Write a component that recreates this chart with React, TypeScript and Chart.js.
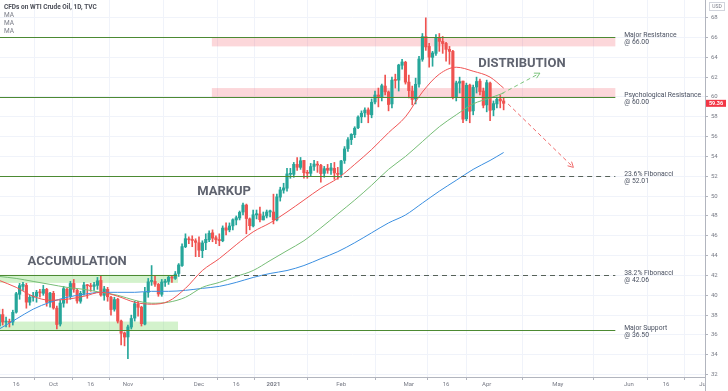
import React, { useEffect, useRef } from "react";
import { Chart, registerables } from "chart.js";

Chart.register(...registerables);

// Bar index 0 = 16 Sep 2020 (trading days). First bar shown = 9 Sep 2020, last = 9 Apr 2021.
const FIRST_BAR = -5;

const opens = [
  36.9, 38.05, 37.3, 37.3, 37.3,
  38.3, 40.1, 40.9, 41.0, 39.3, 39.8, 39.9, 40.3, 40.2, 40.6, 39.3,
  40.2, 38.7, 37.1, 39.2, 40.6, 39.9, 41.2, 40.5, 39.4, 40.2, 41.0, 40.9, 40.9, 41.0, 41.5, 40.0, 40.6, 39.8, 38.6, 39.6, 37.4, 36.2,
  35.8, 36.8, 37.7, 39.1, 38.8, 37.1, 40.3, 41.4, 41.4, 41.1, 40.1, 41.3, 41.4, 41.8, 41.7, 42.2, 43.0, 44.9, 45.7, 45.6, 45.5,
  45.3, 44.5, 45.3, 45.6, 46.3, 45.8, 45.6, 45.5, 46.8, 46.6, 47.0, 47.6, 47.8, 48.4, 49.1, 47.7, 47.0, 48.1, 48.2, 47.6, 48.0, 48.4,
  48.4, 47.6, 49.9, 50.6, 50.8, 52.2, 52.2, 53.2, 52.9, 53.6, 52.4, 52.3, 53.0, 53.2, 53.1, 52.3, 52.8, 52.6, 52.8, 52.3,
  52.2, 53.6, 54.8, 55.7, 56.2, 56.9, 58.0, 58.4, 58.7, 58.2, 59.5, 60.2, 60.0, 61.1, 60.5, 59.3, 61.7, 61.7, 63.2, 63.5,
  61.5, 60.6, 59.8, 61.3, 63.8, 66.1, 65.1, 64.0, 64.4, 66.0, 65.6, 65.4, 64.8, 64.6, 60.0, 61.4, 61.6, 57.8, 61.2, 58.6, 61.0, 61.6, 60.6,
  59.2, 61.4, 58.7, 59.3, 59.8, 59.6,
];
const highs = [
  38.6, 38.6, 37.8, 37.6, 38.5,
  40.3, 41.2, 41.3, 41.2, 40.0, 40.3, 40.5, 40.6, 41.0, 40.7, 40.3,
  40.4, 38.9, 39.5, 40.9, 40.7, 41.4, 41.6, 40.6, 40.4, 41.3, 41.1, 41.2, 41.3, 41.8, 41.9, 40.9, 40.8, 39.9, 39.8, 39.7, 37.5, 36.3,
  37.0, 38.0, 39.4, 39.4, 38.9, 40.8, 41.7, 43.0, 41.9, 41.2, 41.6, 41.6, 42.0, 42.0, 42.4, 43.2, 45.2, 46.2, 45.9, 46.0, 45.7,
  45.9, 45.5, 46.2, 46.5, 46.6, 46.0, 46.2, 47.0, 47.3, 47.3, 47.7, 48.0, 48.5, 49.3, 49.2, 47.8, 48.6, 48.6, 48.9, 48.4, 48.6, 48.6,
  50.2, 50.2, 50.9, 51.3, 52.8, 52.8, 53.4, 53.9, 53.9, 53.6, 52.6, 53.3, 53.6, 53.5, 53.2, 53.0, 53.2, 53.3, 53.4, 52.9,
  53.6, 55.0, 55.9, 56.3, 57.0, 58.1, 58.6, 58.9, 58.9, 59.8, 60.6, 60.9, 61.3, 62.2, 60.6, 62.0, 62.3, 63.3, 63.8, 63.6,
  62.2, 61.1, 61.9, 64.1, 66.4, 67.98, 65.4, 64.6, 66.3, 66.4, 66.1, 65.5, 65.1, 64.7, 61.6, 62.0, 61.6, 61.4, 61.3, 61.2, 62.0, 61.8, 60.9,
  61.7, 61.5, 59.6, 60.0, 60.2, 59.9,
];
const lows = [
  36.7, 37.0, 36.8, 36.8, 37.0,
  38.2, 39.6, 40.5, 38.7, 39.0, 39.4, 39.3, 39.8, 40.0, 38.9, 38.8,
  38.6, 36.6, 36.9, 38.8, 39.2, 39.6, 40.3, 39.2, 39.2, 40.0, 39.7, 40.4, 40.5, 40.6, 39.9, 39.5, 39.4, 38.0, 38.4, 37.2, 35.0, 34.9,
  33.6, 36.6, 37.4, 37.9, 36.9, 37.0, 39.8, 41.0, 40.9, 39.9, 39.9, 40.9, 41.1, 41.3, 41.6, 41.9, 42.9, 44.8, 45.2, 44.9, 43.9,
  43.9, 43.8, 44.6, 45.4, 45.4, 45.2, 45.0, 45.4, 46.1, 46.4, 46.6, 47.1, 47.6, 48.1, 46.2, 46.6, 46.9, 47.7, 47.4, 47.6, 47.8, 47.9,
  47.2, 47.5, 49.5, 50.3, 50.5, 51.8, 51.9, 52.6, 52.7, 51.8, 51.8, 52.0, 52.6, 52.4, 51.4, 51.9, 52.3, 52.2, 51.7, 51.7,
  51.9, 53.3, 54.5, 55.2, 55.9, 56.8, 57.4, 58.0, 57.4, 57.9, 59.3, 59.0, 59.6, 60.2, 58.6, 58.9, 60.9, 60.6, 62.8, 61.3,
  59.9, 59.2, 59.3, 61.0, 63.6, 64.7, 63.0, 63.1, 64.2, 64.6, 64.4, 63.6, 63.3, 59.8, 59.6, 60.4, 57.4, 57.6, 57.4, 58.2, 60.4, 60.2, 58.9,
  58.5, 57.6, 58.1, 58.9, 58.9, 58.7,
];
const closes = [
  38.05, 37.3, 37.33, 37.26, 38.28,
  40.16, 40.97, 41.11, 39.31, 39.8, 39.93, 40.31, 40.25, 40.6, 39.29, 40.22,
  38.72, 37.05, 39.22, 40.67, 39.95, 41.19, 40.6, 39.43, 40.2, 41.04, 40.96, 40.88, 41.06, 41.46, 40.03, 40.64, 39.85, 38.56, 39.57, 37.39, 36.17, 35.79,
  36.81, 37.66, 39.15, 38.79, 37.14, 40.29, 41.36, 41.45, 41.12, 40.13, 41.34, 41.43, 41.82, 41.74, 42.15, 43.06, 44.91, 45.71, 45.6, 45.53, 45.34,
  44.55, 45.28, 45.64, 46.26, 45.76, 45.6, 45.52, 46.78, 46.57, 46.99, 47.62, 47.82, 48.36, 49.1, 47.74, 47.02, 48.12, 48.23, 47.62, 48.0, 48.4, 48.52,
  47.62, 49.93, 50.63, 50.83, 52.24, 52.25, 53.21, 52.91, 53.57, 52.36, 52.3, 52.98, 53.24, 53.13, 52.27, 52.77, 52.61, 52.85, 52.34, 52.2,
  53.55, 54.76, 55.69, 56.23, 56.85, 57.97, 58.36, 58.68, 58.24, 59.47, 60.2, 60.05, 61.14, 60.52, 59.24, 61.7, 61.67, 63.22, 63.53, 61.5,
  60.64, 59.75, 61.28, 63.83, 66.09, 65.05, 64.01, 64.44, 66.02, 65.61, 65.39, 64.8, 64.6, 60.0, 61.42, 61.55, 57.76, 61.18, 58.56, 60.97, 61.56, 60.55, 59.16,
  61.45, 58.65, 59.33, 59.77, 59.6, 59.36,
];

// Moving averages at these bar indices
const maIndex = [-5, 0, 5, 10, 15, 20, 25, 30, 35, 40, 45, 50, 55, 60, 65, 70, 75, 80, 85, 90, 95, 100, 105, 110, 115, 120, 125, 130, 135, 140, 144];
const maRed = [41.5, 40.8, 39.9, 39.5, 39.6, 39.9, 40.3, 39.9, 39.3, 39.1, 39.4, 40.7, 42.5, 43.7, 45.1, 46.4, 47.3, 48.4, 49.6, 50.8, 51.8, 53.2, 54.7, 56.4, 58.0, 60.5, 62.3, 63.0, 62.6, 62.0, 60.9];
const maGreen = [41.9, 41.7, 41.4, 41.1, 40.8, 40.6, 40.3, 40.0, 39.5, 39.2, 39.3, 39.8, 40.8, 41.3, 41.9, 42.5, 43.5, 44.5, 45.5, 46.8, 48.2, 49.6, 51.1, 52.7, 54.0, 55.5, 57.0, 58.2, 59.3, 59.9, 60.4];
const maBlue = [36.6, 37.6, 38.6, 39.3, 39.8, 40.1, 40.3, 40.3, 40.3, 40.4, 40.4, 40.5, 40.7, 40.9, 41.3, 41.8, 42.2, 42.5, 43.0, 43.7, 44.4, 45.3, 46.3, 47.3, 48.1, 49.3, 50.5, 51.6, 52.7, 53.6, 54.4];

const xTickIndex = [0, 11, 22, 33, 54, 65, 76, 96, 116, 127, 139, 160, 181, 192, 203];
const xTickLabels = ["16", "Oct", "16", "Nov", "Dec", "16", "2021", "Feb", "Mar", "16", "Apr", "May", "Jun", "16", "Jul"];
const yTickValues = [32, 34, 36, 38, 40, 42, 44, 46, 48, 50, 52, 54, 56, 58, 60, 62, 64, 66, 68];

// Annotations (in bar index / price units)
const levelValues = [66.0, 60.0, 52.01, 42.06, 36.5];
const levelNames = ["Major Resistance", "Psychological Resistance", "23.6% Fibonacci", "38.2% Fibonacci", "Major Support"];
const levelSolidEnd = [177, 177, 95.7, 47.5, 177];
const LEVEL_END = 177;
const LEVEL_TEXT_AT = 179.6;

const resistanceZones = [
  { x0: 57.8, x1: 177, lo: 65.1, hi: 65.95 },
  { x0: 57.8, x1: 177, lo: 60.0, hi: 60.9 },
];
const accumulationZones = [
  { x0: -5, x1: 47.8, lo: 41.25, hi: 42.06 },
  { x0: -5, x1: 47.8, lo: 36.5, hi: 37.35 },
];
const phaseLabels = [
  { text: "ACCUMULATION", x: 18, y: 43.36 },
  { text: "MARKUP", x: 61.4, y: 50.42 },
  { text: "DISTRIBUTION", x: 149.4, y: 63.33 },
];
const bullArrow = { x0: 143.5, y0: 60.35, x1: 154.7, y1: 62.4 };
const bearArrow = { x0: 145.3, y0: 59.3, x1: 164.6, y1: 52.9 };

const X_MIN = -4.79;
const X_MAX = 203.49;
const Y_MIN = 31.76;
const Y_MAX = 69.78;

const UP = "#26a69a";
const DOWN = "#ef5350";
const GRID = "#f0f3fa";
const AXIS = "#b2b5be";
const TEXT = "#787b86";
const FONT = "Roboto";

function drawArrow(ctx: CanvasRenderingContext2D, x0: number, y0: number, x1: number, y1: number, color: string) {
  ctx.save();
  ctx.strokeStyle = color;
  ctx.lineWidth = 1;
  ctx.setLineDash([4, 3]);
  ctx.beginPath();
  ctx.moveTo(x0, y0);
  ctx.lineTo(x1, y1);
  ctx.stroke();
  ctx.setLineDash([]);
  const ang = Math.atan2(y1 - y0, x1 - x0);
  const L = 6;
  ctx.beginPath();
  ctx.moveTo(x1 - L * Math.cos(ang - 0.5), y1 - L * Math.sin(ang - 0.5));
  ctx.lineTo(x1, y1);
  ctx.lineTo(x1 - L * Math.cos(ang + 0.5), y1 - L * Math.sin(ang + 0.5));
  ctx.stroke();
  ctx.restore();
}

const overlayPlugin = {
  id: "overlay",
  beforeDatasetsDraw(chart: any) {
    const { ctx, chartArea: a, scales } = chart;
    const x = scales.x, y = scales.y;
    ctx.save();
    ctx.beginPath();
    ctx.rect(a.left, a.top, a.right - a.left, a.bottom - a.top);
    ctx.clip();
    const fillZone = (z: any, color: string) => {
      const px0 = x.getPixelForValue(z.x0);
      const px1 = x.getPixelForValue(z.x1);
      const pyHi = y.getPixelForValue(z.hi);
      const pyLo = y.getPixelForValue(z.lo);
      ctx.fillStyle = color;
      ctx.fillRect(px0, pyHi, px1 - px0, pyLo - pyHi);
    };
    resistanceZones.forEach((z) => fillZone(z, "rgba(242, 54, 69, 0.2)"));
    accumulationZones.forEach((z) => fillZone(z, "rgba(118, 214, 96, 0.32)"));
    ctx.restore();
  },
  afterDatasetsDraw(chart: any) {
    const { ctx, chartArea: a, scales } = chart;
    const x = scales.x, y = scales.y;
    ctx.save();
    ctx.beginPath();
    ctx.rect(a.left, a.top, a.right - a.left, a.bottom - a.top);
    ctx.clip();

    // level lines
    levelValues.forEach((v, i) => {
      const py = Math.round(y.getPixelForValue(v)) + 0.5;
      const xs = a.left;
      const xm = x.getPixelForValue(levelSolidEnd[i]);
      const xe = x.getPixelForValue(LEVEL_END);
      ctx.strokeStyle = "#4c8a33";
      ctx.lineWidth = 1.2;
      ctx.setLineDash([]);
      ctx.beginPath();
      ctx.moveTo(xs, py);
      ctx.lineTo(xm, py);
      ctx.stroke();
      if (xm < xe) {
        ctx.strokeStyle = "#56625a";
        ctx.lineWidth = 1.2;
        ctx.setLineDash([5, 4]);
        ctx.beginPath();
        ctx.moveTo(xm + 4, py);
        ctx.lineTo(xe, py);
        ctx.stroke();
        ctx.setLineDash([]);
      }
      // labels
      const tx = x.getPixelForValue(LEVEL_TEXT_AT);
      ctx.fillStyle = "#4a5161";
      ctx.font = `6.8px ${FONT}`;
      ctx.textAlign = "left";
      ctx.textBaseline = "middle";
      ctx.fillText(levelNames[i], tx, py - 2);
      ctx.fillText("@ " + v.toFixed(2), tx, py + 4.6);
    });

    // phase labels
    ctx.fillStyle = "#5f636f";
    ctx.font = `bold 13px ${FONT}`;
    ctx.textAlign = "center";
    ctx.textBaseline = "middle";
    phaseLabels.forEach((p) => {
      ctx.fillText(p.text, x.getPixelForValue(p.x), y.getPixelForValue(p.y));
    });

    drawArrow(ctx, x.getPixelForValue(bullArrow.x0), y.getPixelForValue(bullArrow.y0), x.getPixelForValue(bullArrow.x1), y.getPixelForValue(bullArrow.y1), "#7cc47c");
    drawArrow(ctx, x.getPixelForValue(bearArrow.x0), y.getPixelForValue(bearArrow.y0), x.getPixelForValue(bearArrow.x1), y.getPixelForValue(bearArrow.y1), "#ef6a6a");
    ctx.restore();
  },
  afterDraw(chart: any) {
    const { ctx, chartArea: a, scales, width, height } = chart;
    const y = scales.y;
    ctx.save();
    // header
    ctx.textAlign = "left";
    ctx.textBaseline = "middle";
    ctx.fillStyle = "#4a4d57";
    ctx.font = `bold 6.5px ${FONT}`;
    ctx.fillText("CFDs on WTI Crude Oil, 1D, TVC", 4, 7);
    ctx.fillStyle = TEXT;
    ctx.font = `6.5px ${FONT}`;
    ctx.fillText("MA", 4, 15.3);
    ctx.fillText("MA", 4, 23.6);
    ctx.fillText("MA", 4, 31.8);

    // bottom-right corner
    ctx.fillStyle = "#ffffff";
    ctx.fillRect(a.right + 1, a.bottom + 1, width - a.right, height - a.bottom);
    ctx.strokeStyle = AXIS;
    ctx.lineWidth = 1;
    ctx.beginPath();
    ctx.moveTo(Math.round(a.right) + 0.5, a.bottom);
    ctx.lineTo(Math.round(a.right) + 0.5, height);
    ctx.stroke();

    // USD
    ctx.strokeStyle = "#d1d4dc";
    ctx.strokeRect(a.right + 4.5, 2.5, 15, 8);
    ctx.fillStyle = TEXT;
    ctx.font = `5px ${FONT}`;
    ctx.textAlign = "center";
    ctx.fillText("USD", a.right + 12, 6.7);

    // last price tag
    const last = closes[closes.length - 1];
    const py = y.getPixelForValue(last);
    ctx.fillStyle = "#f23645";
    ctx.fillRect(a.right + 1, py - 3.5, 20, 7);
    ctx.fillStyle = "#ffffff";
    ctx.font = `bold 5.5px ${FONT}`;
    ctx.fillText(last.toFixed(2), a.right + 11, py + 0.3);
    ctx.restore();
  },
};

export default function App() {
  const ref = useRef<HTMLCanvasElement>(null);
  useEffect(() => {
    document.body.style.margin = "0";
    const canvas = ref.current!;
    const idx = closes.map((_, i) => FIRST_BAR + i);
    const colors = closes.map((c, i) => (c >= opens[i] ? UP : DOWN));
    const maLine = (vals: number[], color: string) => ({
      type: "line" as const,
      data: maIndex.map((xv, i) => ({ x: xv, y: vals[i] })),
      borderColor: color,
      borderWidth: 1,
      pointRadius: 0,
      cubicInterpolationMode: "monotone" as const,
      order: 0,
      clip: 0,
    });
    const chart = new Chart(canvas, {
      type: "bar",
      data: {
        datasets: [
          maLine(maRed, "#f05454"),
          maLine(maGreen, "#76bd76"),
          maLine(maBlue, "#3b8fe0"),
          {
            type: "bar",
            data: idx.map((xv, i) => ({ x: xv, y: [opens[i], closes[i]] })),
            backgroundColor: colors,
            barThickness: 2.5,
            minBarLength: 1,
            grouped: false,
            order: 1,
            clip: 0,
          } as any,
          {
            type: "bar",
            data: idx.map((xv, i) => ({ x: xv, y: [lows[i], highs[i]] })),
            backgroundColor: colors,
            barThickness: 1,
            grouped: false,
            order: 2,
            clip: 0,
          } as any,
        ],
      },
      options: {
        animation: false,
        responsive: false,
        devicePixelRatio: 1,
        events: [],
        layout: { padding: 0 },
        plugins: { legend: { display: false }, tooltip: { enabled: false } },
        scales: {
          x: {
            type: "linear",
            min: X_MIN,
            max: X_MAX,
            offset: false,
            grid: { color: GRID, tickColor: AXIS, tickLength: 3, drawTicks: true },
            border: { display: true, color: AXIS },
            ticks: {
              autoSkip: false,
              maxRotation: 0,
              padding: 1,
              color: TEXT,
              font: (c: any) => ({ family: FONT, size: 6, weight: xTickLabels[c.index] === "2021" ? "bold" : "normal" }),
              callback: (_v: any, i: number) => xTickLabels[i],
            },
            afterBuildTicks: (s: any) => {
              s.ticks = xTickIndex.map((v) => ({ value: v }));
            },
            afterFit: (s: any) => {
              s.height = 14;
              s.paddingLeft = 0;
              s.paddingRight = 0;
            },
          },
          y: {
            type: "linear",
            position: "right",
            min: Y_MIN,
            max: Y_MAX,
            grid: { color: GRID, tickColor: AXIS, tickLength: 3, drawTicks: true },
            border: { display: true, color: AXIS },
            ticks: {
              padding: 3,
              color: TEXT,
              font: { family: FONT, size: 6 },
              callback: (v: any) => String(v),
            },
            afterBuildTicks: (s: any) => {
              s.ticks = yTickValues.map((v) => ({ value: v }));
            },
            afterFit: (s: any) => {
              s.width = 23;
              s.paddingTop = 0;
              s.paddingBottom = 0;
            },
          },
        },
      },
      plugins: [overlayPlugin],
    } as any);
    return () => chart.destroy();
  }, []);
  return <canvas ref={ref} width={728} height={391} style={{ display: "block", width: 728, height: 391 }} />;
}
